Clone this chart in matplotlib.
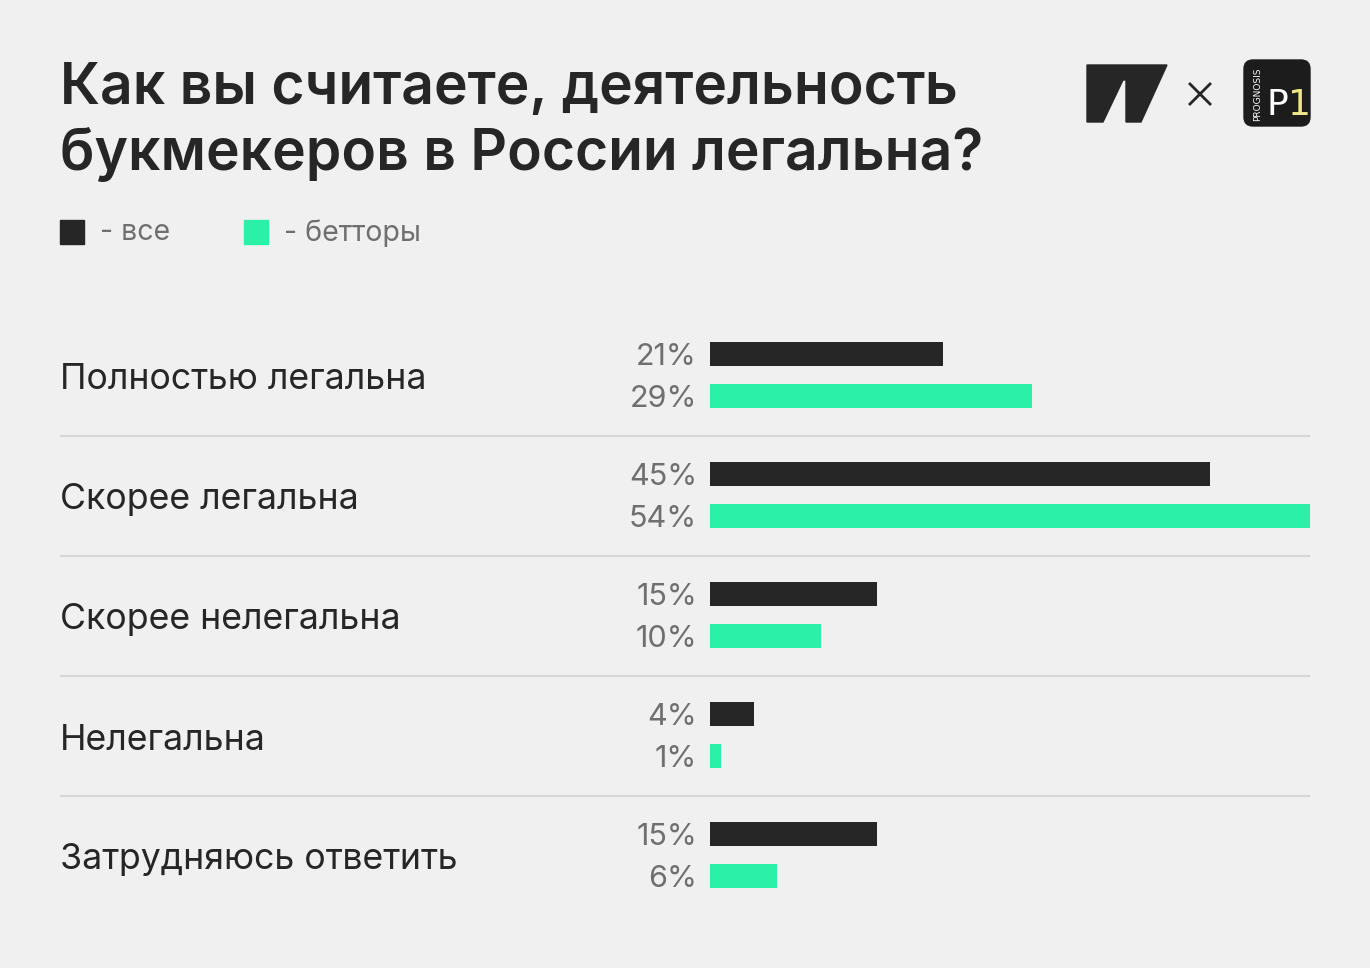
import numpy as np
import matplotlib
matplotlib.use('Agg')
import matplotlib.pyplot as plt
from matplotlib.patches import Rectangle, Polygon, FancyBboxPatch

# Данные опроса
categories = ["Полностью легальна", "Скорее легальна", "Скорее нелегальна",
              "Нелегальна", "Затрудняюсь ответить"]
all_vals = [21, 45, 15, 4, 15]
bettor_vals = [29, 54, 10, 1, 6]

BG = "#f0f0f0"
DARK = "#262626"
GREEN = "#2af0a8"
GRAY = "#6f6f6f"
FONT = "Inter"

W, H = 1370, 968
fig = plt.figure(figsize=(W / 100, H / 100), dpi=100, facecolor=BG)

# оверлей в пикселях для заголовка, легенды и логотипов
over = fig.add_axes([0, 0, 1, 1])
over.set_xlim(0, W); over.set_ylim(H, 0)
over.axis("off")

over.text(60, 104, "Как вы считаете, деятельность", fontsize=41, fontweight="semibold",
          family=FONT, color=DARK, va="baseline")
over.text(60, 170, "букмекеров в России легальна?", fontsize=41, fontweight="semibold",
          family=FONT, color=DARK, va="baseline")

# легенда
over.add_patch(Rectangle((60, 220), 24, 24, color=DARK))
over.text(100, 233, "- все", fontsize=20.5, family=FONT, color=GRAY, va="center")
over.add_patch(Rectangle((244, 220), 24, 24, color=GREEN))
over.text(284, 233, "- бетторы", fontsize=20.5, family=FONT, color=GRAY, va="center")

# логотипы
over.add_patch(Polygon([(1087, 65), (1167, 65), (1141, 122), (1126, 122), (1126, 80),
                        (1123, 80), (1103, 122), (1087, 122)], closed=True, color=DARK))
over.plot([1190, 1210], [84, 104], color=DARK, lw=2)
over.plot([1190, 1210], [104, 84], color=DARK, lw=2)
over.add_patch(FancyBboxPatch((1249, 65), 56, 56, boxstyle="round,pad=5,rounding_size=9",
                              color="#1c1c1c"))
over.text(1258, 94, "PROGNOSIS", fontsize=6.5, color="white", rotation=90,
          ha="center", va="center", family="DejaVu Sans")
over.text(1277, 115, "P", fontsize=26, color="white", ha="center", va="baseline",
          family="DejaVu Sans")
over.text(1300, 115, "1", fontsize=26, color="#efe58a", ha="center", va="baseline",
          family="DejaVu Sans")

# основной график: ось от x=60 до x=1310 px, y от 316 до 916 px
ax = fig.add_axes([60 / W, 1 - 916 / H, 1250 / W, 600 / H])
ax.set_facecolor("none")
px_per_pct = 600 / max(bettor_vals)
left_pct = 650 / px_per_pct
ax.set_xlim(-left_pct, max(bettor_vals))
ax.set_ylim(len(categories) - 0.5, -0.5)
ax.axis("off")

y = np.arange(len(categories))
bh = 24 / 120
ax.barh(y - 22 / 120, all_vals, height=bh, color=DARK)
ax.barh(y + 20 / 120, bettor_vals, height=bh, color=GREEN)

for i, cat in enumerate(categories):
    ax.text(-left_pct, i + 4 / 120, cat, fontsize=25.7, family=FONT, color=DARK,
            va="center", ha="left")
    ax.text(-13 / px_per_pct, i - 19 / 120, f"{all_vals[i]}%", fontsize=22, family=FONT,
            color=GRAY, va="center", ha="right")
    ax.text(-13 / px_per_pct, i + 23 / 120, f"{bettor_vals[i]}%", fontsize=22, family=FONT,
            color=GRAY, va="center", ha="right")
for i in range(len(categories) - 1):
    ax.axhline(i + 0.5, color="#d6d6d6", lw=1.5)

fig.savefig("out.png", dpi=100, facecolor=BG)
